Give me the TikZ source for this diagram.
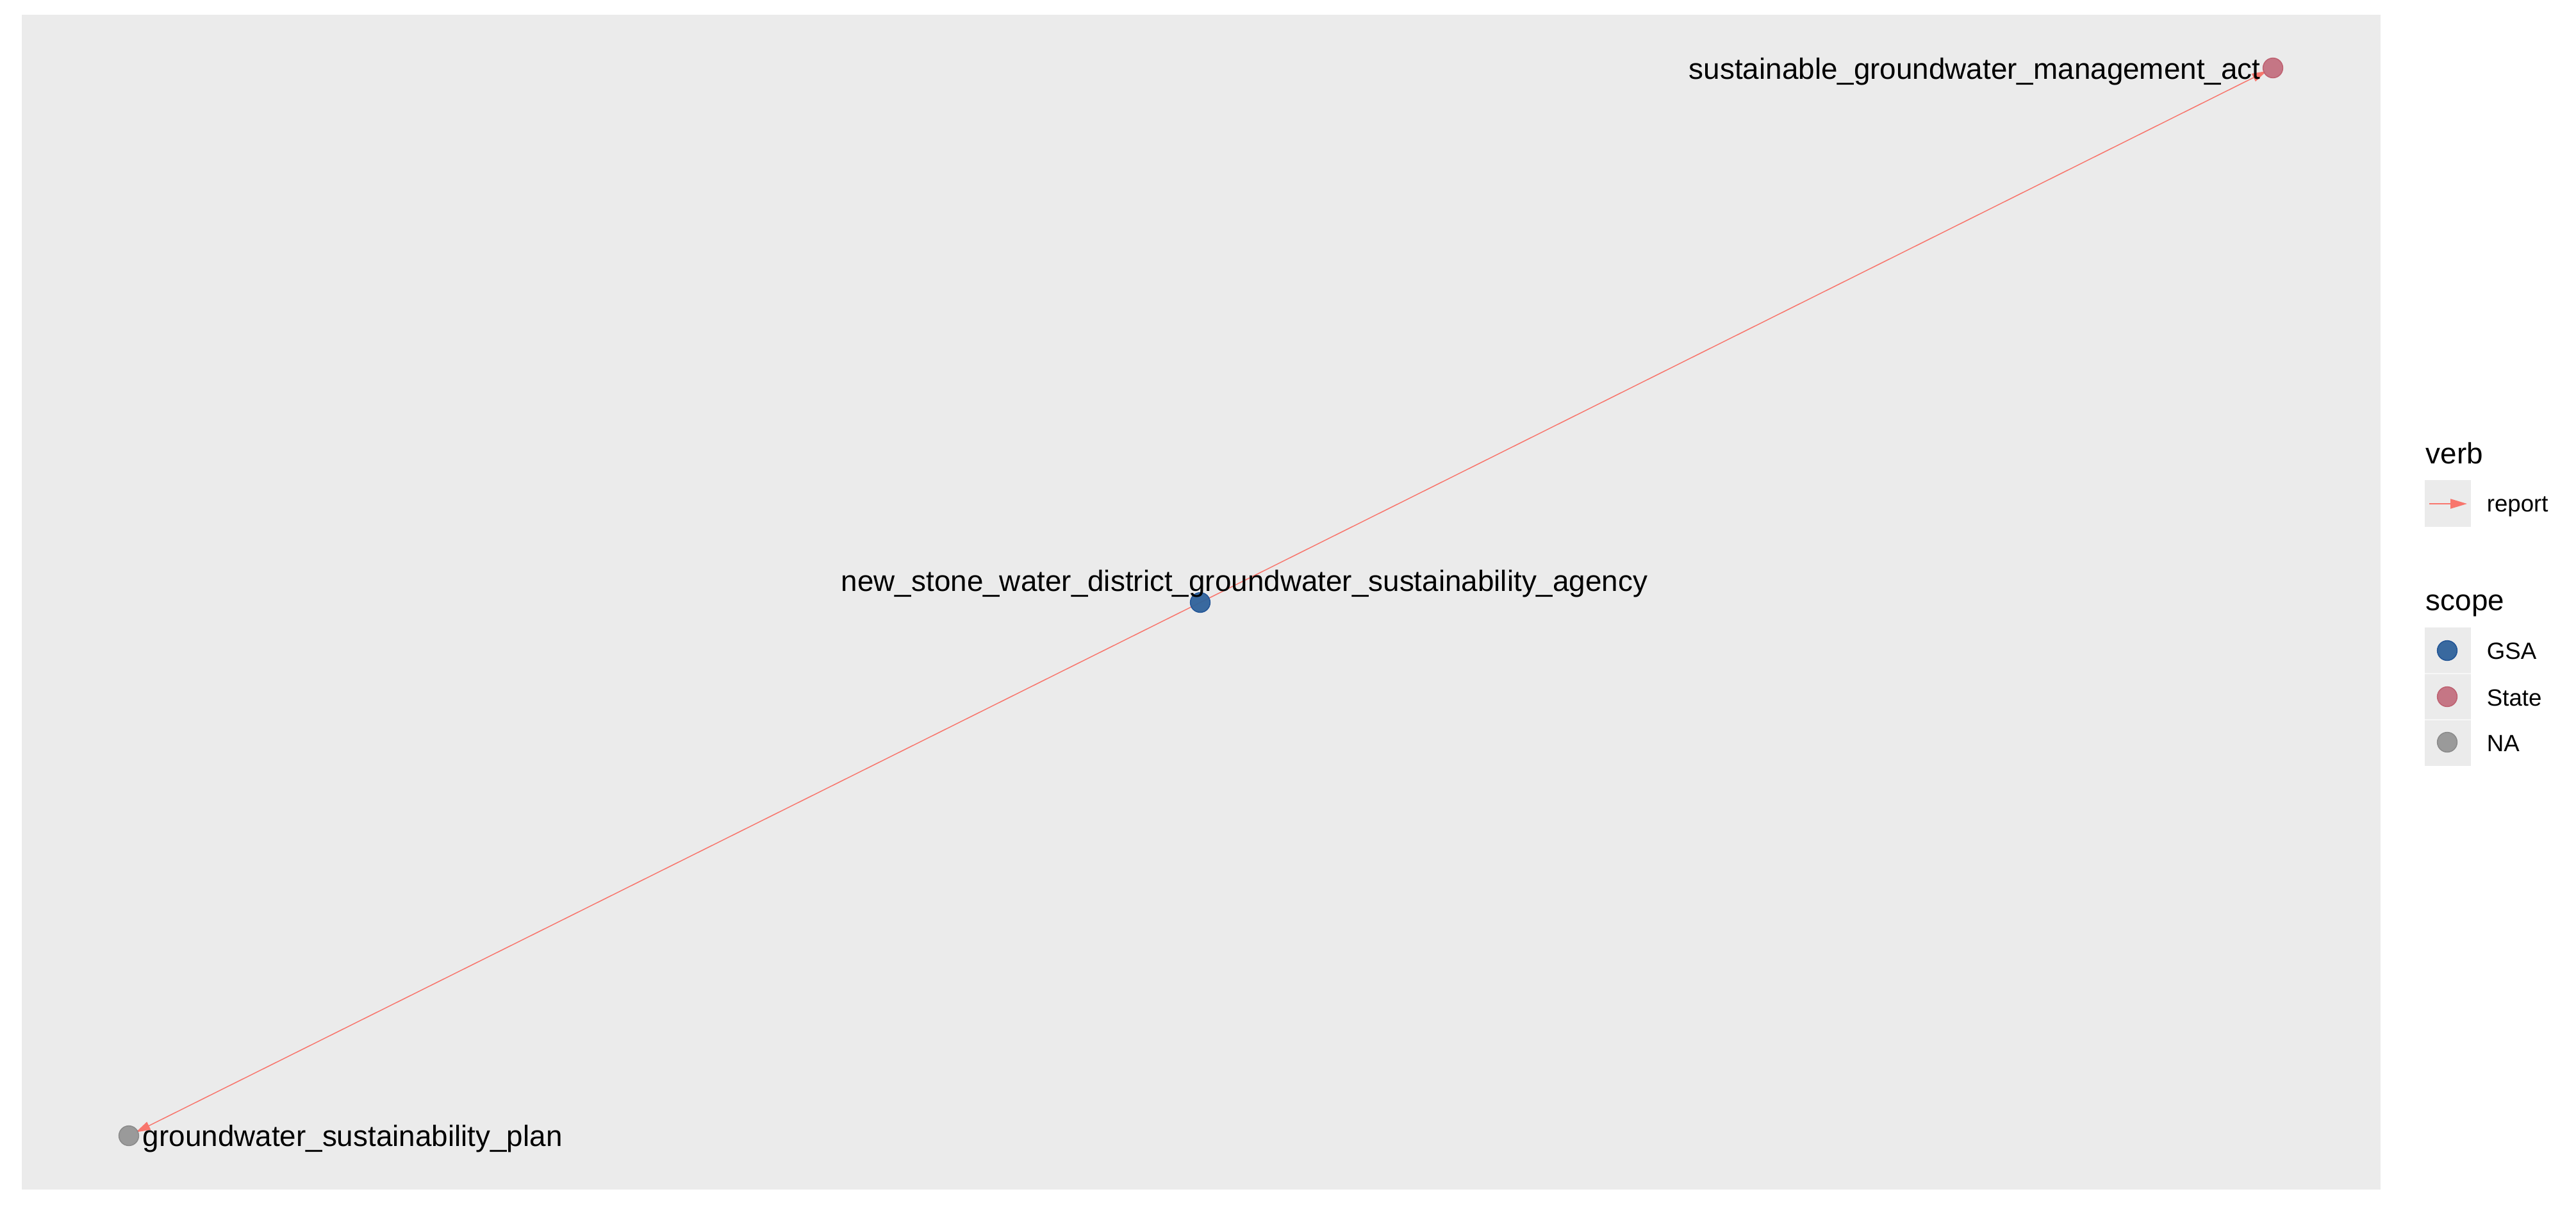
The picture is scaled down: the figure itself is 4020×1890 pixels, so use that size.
\documentclass[tikz,border=0pt]{standalone}
\usepackage{fontspec}
\setmainfont{Liberation Sans}
\usetikzlibrary{arrows.meta}
\definecolor{panelbg}{HTML}{EBEBEB}
\definecolor{edgecol}{HTML}{F8766D}
\definecolor{gsaFill}{RGB}{48,99,155}
\definecolor{gsaDraw}{RGB}{33,84,150}
\definecolor{stateFill}{RGB}{196,112,128}
\definecolor{stateDraw}{RGB}{190,96,112}
\definecolor{naFill}{RGB}{150,150,150}
\definecolor{naDraw}{RGB}{138,138,138}
\pgfdeclarelayer{bg}
\pgfdeclarelayer{edges}
\pgfsetlayers{bg,edges,main}
\tikzset{
  vert/.style={circle, inner sep=0pt, minimum size=7.4pt, line width=0.35pt, fill opacity=0.95},
  gsa/.style={vert, fill=gsaFill, draw=gsaDraw},
  state/.style={vert, fill=stateFill, draw=stateDraw},
  na/.style={vert, fill=naFill, draw=naDraw},
  lab/.style={inner sep=0pt, font=\fontsize{11}{13}\selectfont},
  legtitle/.style={inner sep=0pt, anchor=base west, font=\fontsize{11}{13}\selectfont},
  legtext/.style={inner sep=0pt, anchor=base west, font=\fontsize{8.8}{10}\selectfont},
  edge/.style={draw=edgecol, line width=0.36pt, -{Triangle[length=5.5pt,width=3.2pt]}},
}
\begin{document}
\begin{tikzpicture}[x=0.24pt, y=-0.24pt]
\useasboundingbox (0,0) rectangle (4020,1890);
\begin{pgfonlayer}{bg}
\fill[white] (0,0) rectangle (4020,1890);
\fill[panelbg] (34,23) rectangle (3715,1856);
\end{pgfonlayer}
% nodes
\node[state] (sgma) at (3547,106) {};
\node[gsa] (nsw) at (1873,940) {};
\node[na] (gsp) at (201,1772) {};
% labels
\node[lab, anchor=base west] (sgmaL) at (2635,123) {sustainable\_groundwater\_management\_act};
\node[lab, anchor=base west] (nswL) at (1312,922) {new\_stone\_water\_district\_groundwater\_sustainability\_agency};
\node[lab, anchor=base west] (gspL) at (222,1788) {groundwater\_sustainability\_plan};
% edges
\begin{pgfonlayer}{edges}
\draw[edge, shorten >=2.6pt] (nsw.center) -- (sgma.center);
\draw[edge, shorten >=2.9pt] (nsw.center) -- (gsp.center);
\end{pgfonlayer}
% legend: verb
\node[legtitle] (verbT) at (3785,723) {verb};
\fill[panelbg] (3784,749) rectangle (3856,822);
\coordinate (kA) at (3791,786);
\coordinate (kB) at (3850,786);
\draw[draw=edgecol, line width=0.45pt, -{Triangle[length=6.2pt,width=3.6pt]}] (kA) -- (kB);
\node[legtext] (reportL) at (3880,798) {report};
% legend: scope
\node[legtitle] (scopeT) at (3785,952) {scope};
\fill[panelbg] (3784,979) rectangle (3856,1195);
\draw[white!60!panelbg, line width=0.3pt] (3784,1051) -- (3856,1051) (3784,1123) -- (3856,1123);
\node[gsa] (kGSA) at (3819,1015) {};
\node[state] (kState) at (3819,1087) {};
\node[na] (kNA) at (3819,1158) {};
\node[legtext] (gsaL) at (3880,1028) {GSA};
\node[legtext] (stateL) at (3880,1101) {State};
\node[legtext] (naL) at (3880,1172) {NA};
\end{tikzpicture}
\end{document}
